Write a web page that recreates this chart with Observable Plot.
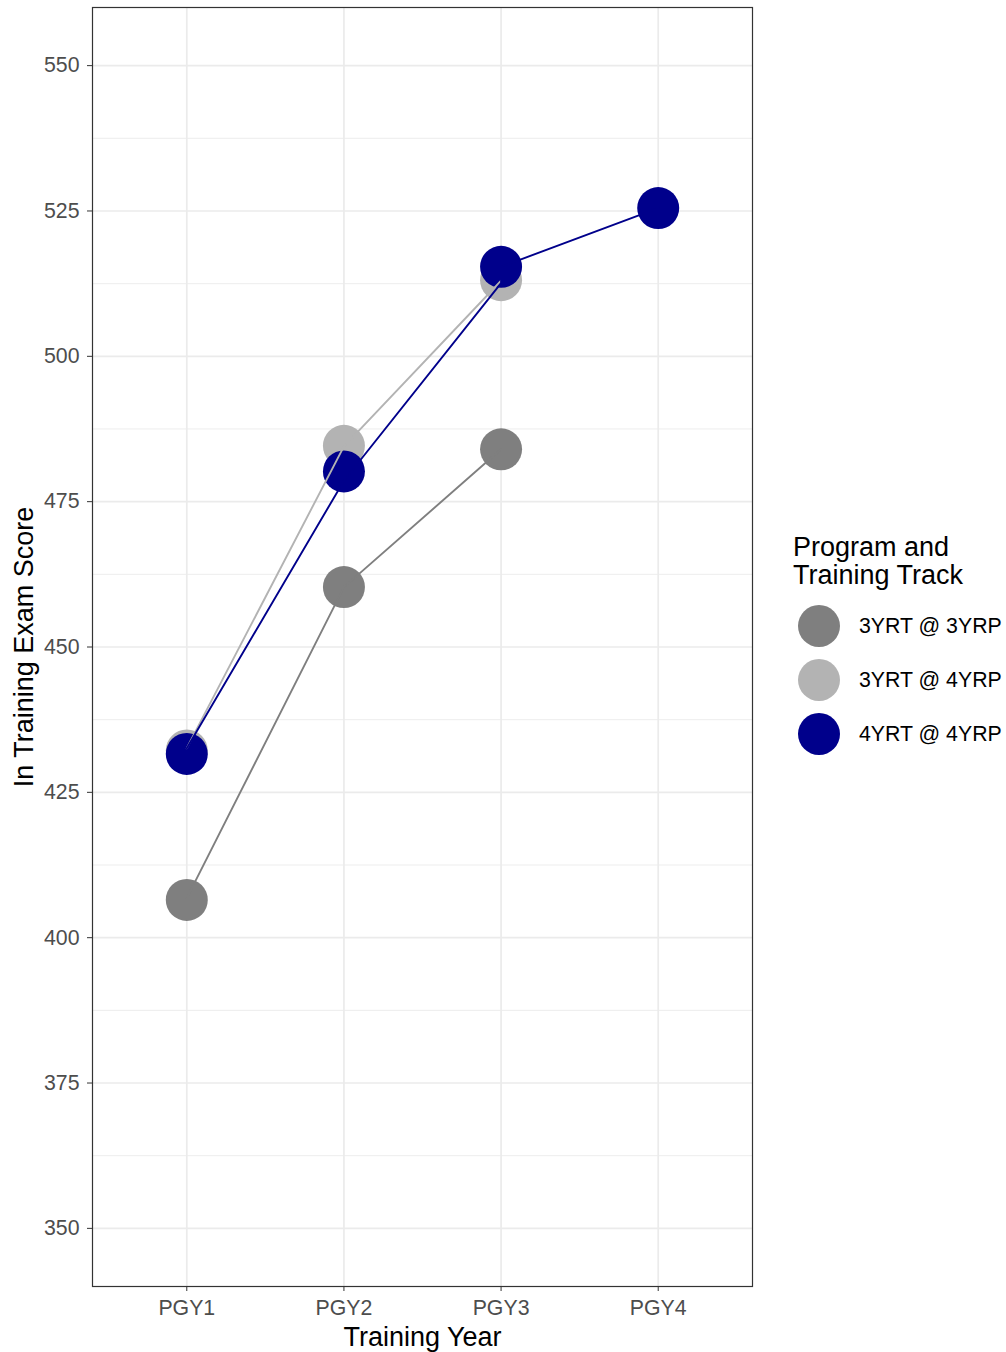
<!DOCTYPE html>
<html>
<head>
<meta charset="utf-8">
<script src="https://cdn.jsdelivr.net/npm/d3@7"></script>
<script src="https://cdn.jsdelivr.net/npm/@observablehq/plot@0.6"></script>
<style>
  html, body { margin: 0; padding: 0; background: #fff; }
  #wrap { position: relative; width: 1006px; height: 1352px; }
  #legend { position: absolute; left: 0; top: 0; }
</style>
</head>
<body>
<div id="wrap"></div>
<script>
// ---- data ----
const years = ["PGY1", "PGY2", "PGY3", "PGY4"];
const tracks = ["3YRT @ 3YRP", "3YRT @ 4YRP", "4YRT @ 4YRP"];
const trackColors = ["#7F7F7F", "#B3B3B3", "#00008B"];

// point means per training year (null = no data)
const points3at3 = [406.5, 460.3, 484.0, null];
const points3at4 = [432.2, 484.6, 513.1, null];
const points4at4 = [431.6, 480.2, 515.4, 525.5];

// connecting line vertices
const lineYears3at3 = ["PGY1", "PGY2", "PGY3"];
const line3at3 = [406.8, 460.3, 484.0];
const lineYears3at4 = ["PGY1", "PGY2", "PGY3"];
const line3at4 = [432.6, 484.5, 513.0];
const lineYears4at4 = ["PGY1", "PGY2", "PGY3", "PGY3", "PGY4"];
const line4at4 = [432.6, 478.6, 512.6, 515.4, 525.5];

const yTicks = [350, 375, 400, 425, 450, 475, 500, 525, 550];
const yMinorTicks = [362.5, 387.5, 412.5, 437.5, 462.5, 487.5, 512.5, 537.5];
const yDomain = [340, 560];

const xTitle = "Training Year";
const yTitle = "In Training Exam Score";
const legendTitle = ["Program and", "Training Track"];

// ---- build tables ----
const pointSeries = [points3at3, points3at4, points4at4];
const pointData = [];
pointSeries.forEach((vals, i) => vals.forEach((v, j) => {
  if (v != null) pointData.push({track: tracks[i], year: years[j], score: v});
}));
const lineSeries = [[lineYears3at3, line3at3], [lineYears3at4, line3at4], [lineYears4at4, line4at4]];
const lineData = [];
lineSeries.forEach(([ys, vals], i) => vals.forEach((v, j) => {
  lineData.push({track: tracks[i], year: ys[j], score: v});
}));

const font = "'Liberation Sans', Arial, sans-serif";
const tickFont = 21.3;
const titleFont = 27;

const chart = Plot.plot({
  width: 1006,
  height: 1352,
  marginLeft: 92,
  marginRight: 254,
  marginTop: 7,
  marginBottom: 66,
  style: {fontFamily: font, fontSize: tickFont + "px", color: "#4D4D4D", background: "#fff", overflow: "visible"},
  x: {type: "point", domain: years, padding: 0.6, round: false, label: null},
  y: {domain: yDomain, label: null},
  color: {domain: tracks, range: trackColors},
  marks: [
    Plot.gridY(yMinorTicks, {stroke: "#EBEBEB", strokeOpacity: 1, strokeWidth: 0.9}),
    Plot.gridY(yTicks, {stroke: "#EBEBEB", strokeOpacity: 1, strokeWidth: 1.7}),
    Plot.gridX(years, {stroke: "#EBEBEB", strokeOpacity: 1, strokeWidth: 1.7}),
    Plot.dot(pointData, {x: "year", y: "score", fill: "track", r: 21, stroke: null}),
    Plot.line(lineData, {x: "year", y: "score", z: "track", stroke: "track", strokeWidth: 1.9}),
    Plot.frame({stroke: "#333333", strokeWidth: 1.2}),
    Plot.axisY(yTicks, {tickSize: 5, tickPadding: 8, stroke: "#333333", fill: "#4D4D4D", fontSize: tickFont, label: null}),
    Plot.axisX(years, {tickSize: 5, tickPadding: 8, stroke: "#333333", fill: "#4D4D4D", fontSize: tickFont, label: null}),
    Plot.text([yTitle], {frameAnchor: "left", dx: -79, rotate: -90, lineAnchor: "top", textAnchor: "middle", fontSize: titleFont, fill: "#000"}),
    Plot.text([xTitle], {frameAnchor: "bottom", dy: 59, lineAnchor: "bottom", textAnchor: "middle", fontSize: titleFont, fill: "#000"})
  ]
});

const wrap = document.getElementById("wrap");
wrap.appendChild(chart);

// ---- legend ----
const leg = d3.select(wrap).append("svg")
  .attr("id", "legend")
  .attr("width", 1006).attr("height", 1352)
  .style("pointer-events", "none")
  .style("font-family", font);
leg.selectAll("text.title").data(legendTitle).join("text")
  .attr("class", "title")
  .attr("x", 793).attr("y", (d, i) => 556 + i * 28)
  .attr("font-size", titleFont).attr("fill", "#000")
  .text(d => d);
const items = leg.selectAll("g.item").data(tracks).join("g")
  .attr("class", "item")
  .attr("transform", (d, i) => `translate(0, ${626 + i * 54})`);
items.append("circle").attr("cx", 819).attr("cy", 0).attr("r", 21)
  .attr("fill", (d, i) => trackColors[i]);
items.append("text").attr("x", 859).attr("y", 0).attr("dy", "0.35em")
  .attr("font-size", tickFont).attr("fill", "#000").text(d => d);
</script>
</body>
</html>
